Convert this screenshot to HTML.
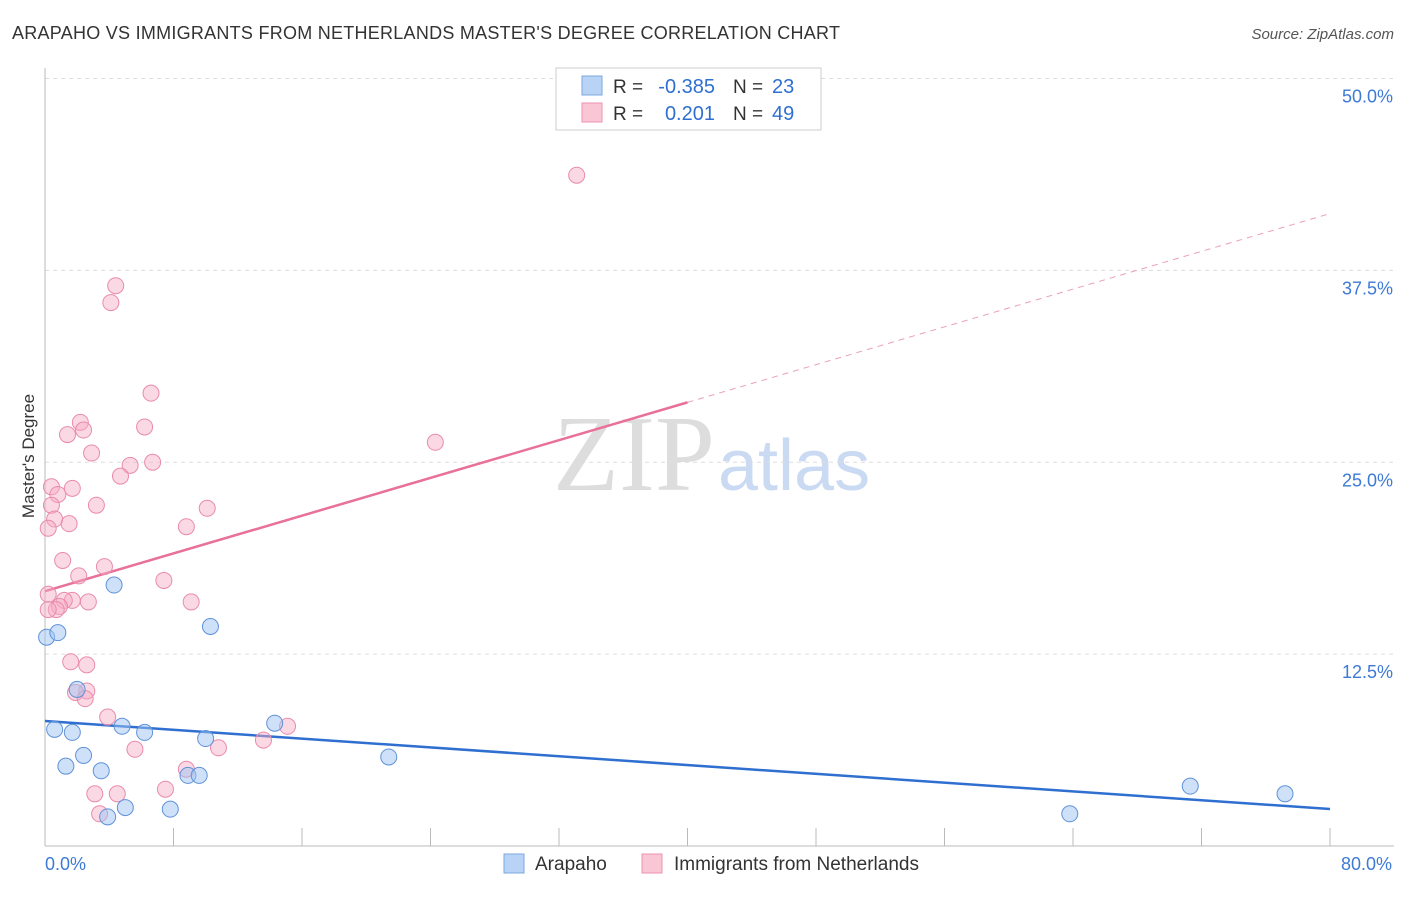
<!DOCTYPE html>
<html><head><meta charset="utf-8"><style>
body{margin:0;background:#fff;font-family:"Liberation Sans",sans-serif}
</style></head><body>
<svg id="c" width="1406" height="892" xmlns="http://www.w3.org/2000/svg">
<text x="12" y="39" font-size="18" fill="#333" textLength="828">ARAPAHO VS IMMIGRANTS FROM NETHERLANDS MASTER'S DEGREE CORRELATION CHART</text>
<text x="1394" y="39" font-size="15" fill="#555" font-style="italic" text-anchor="end">Source: ZipAtlas.com</text>
<text x="34" y="456" font-size="17" fill="#333" text-anchor="middle" transform="rotate(-90 34 456)">Master's Degree</text>
<text x="715" y="490" font-size="108" fill="#ddd" font-family="Liberation Serif" text-anchor="end">ZIP</text>
<text x="718" y="490" font-size="72" fill="#c9daf2">atlas</text>
<g id="grid"></g><g id="trend"></g><g id="pts"></g>
<g>
<rect x="556" y="68" width="265" height="62" fill="#fff" stroke="#ccc"/>
<rect x="582" y="76" width="20" height="19" fill="#b8d3f5" stroke="#7da7e0"/>
<text x="613" y="93" font-size="19" fill="#333">R =</text>
<text x="715" y="93" font-size="20" fill="#2f6fd0" text-anchor="end">-0.385</text>
<text x="733" y="93" font-size="19" fill="#333">N =</text>
<text x="772" y="93" font-size="20" fill="#2f6fd0">23</text>
<rect x="582" y="103" width="20" height="19" fill="#f9c6d5" stroke="#ee93ae"/>
<text x="613" y="120" font-size="19" fill="#333">R =</text>
<text x="715" y="120" font-size="20" fill="#2f6fd0" text-anchor="end">0.201</text>
<text x="733" y="120" font-size="19" fill="#333">N =</text>
<text x="772" y="120" font-size="20" fill="#2f6fd0">49</text>
</g>
<g>
<rect x="504" y="854" width="20" height="19" fill="#b8d3f5" stroke="#7da7e0"/>
<text x="535" y="870" font-size="19" fill="#333">Arapaho</text>
<rect x="642" y="854" width="20" height="19" fill="#f9c6d5" stroke="#ee93ae"/>
<text x="674" y="870" font-size="19" fill="#333">Immigrants from Netherlands</text>
</g>
</svg>
<script>
const yTicks=[12.5,25,37.5,50];
const yTickLabels=["12.5%","25.0%","37.5%","50.0%"];
const xTickLabels=["0.0%","80.0%"];
const blueX=[0.1,0.8,0.6,1.7,2.0,2.4,1.3,3.5,4.3,4.8,6.2,5.0,3.9,7.8,10.3,10.0,8.9,9.6,14.3,21.4,63.8,71.3,77.2];
const blueY=[13.6,13.9,7.6,7.4,10.2,5.9,5.2,4.9,17.0,7.8,7.4,2.5,1.9,2.4,14.3,7.0,4.6,4.6,8.0,5.8,2.1,3.9,3.4];
const pinkX=[33.1,4.4,4.1,6.6,24.3,2.2,2.4,1.4,6.2,2.9,5.3,6.7,4.7,0.4,0.8,1.7,3.2,10.1,0.4,1.5,0.6,8.8,0.2,1.1,3.7,2.1,7.4,0.2,1.7,2.7,1.2,0.9,0.7,9.1,1.6,2.6,2.6,1.9,2.5,3.9,5.6,10.8,13.6,15.1,8.8,7.5,3.1,4.5,3.4,0.2];
const pinkY=[43.7,36.5,35.4,29.5,26.3,27.6,27.1,26.8,27.3,25.6,24.8,25.0,24.1,23.4,22.9,23.3,22.2,22.0,22.2,21.0,21.3,20.8,20.7,18.6,18.2,17.6,17.3,16.4,16.0,15.9,16.0,15.6,15.4,15.9,12.0,11.8,10.1,10.0,9.6,8.4,6.3,6.4,6.9,7.8,5.0,3.7,3.4,3.4,2.1,15.4];
const blueTrend=[8.14,2.41];
const pinkTrend=[16.6,41.2];
const pinkSolidEnd=40;
const X=v=>45+v*16.0625, Y=v=>846-v*15.35;
const NS="http://www.w3.org/2000/svg";
function mk(t,a,p){const e=document.createElementNS(NS,t);for(const k in a)e.setAttribute(k,a[k]);p.appendChild(e);return e;}
const grid=document.getElementById('grid'),trend=document.getElementById('trend'),pts=document.getElementById('pts');
yTicks.forEach((t,i)=>{
 const l=mk('line',{x1:45,x2:1394,y1:Y(t),y2:Y(t),stroke:'#ddd','stroke-dasharray':'4,4'},grid);
 
 
 const tx=mk('text',{x:1393,y:Y(t)+24,'font-size':18,fill:'#3d7ad6','text-anchor':'end'},grid);tx.textContent=yTickLabels[i];
 
 
});
const ax=mk('line',{x1:45,x2:45,y1:68,y2:846,stroke:'#bbb'},grid);


const bx=mk('line',{x1:45,x2:1394,y1:846,y2:846,stroke:'#bbb'},grid);


for(let v=0;v<=80;v+=8){const t=mk('line',{x1:X(v),x2:X(v),y1:828,y2:846,stroke:'#bbb'},grid);
 
 }
[[0,'start'],[80,'end']].forEach((a,i)=>{const t=mk('text',{x:X(a[0])+(i?62:0),y:870,'font-size':18,fill:'#3d7ad6','text-anchor':a[1]},grid);t.textContent=xTickLabels[i];
 
 });
const py=v=>pinkTrend[0]+(pinkTrend[1]-pinkTrend[0])*v/80;
let l1=mk('line',{x1:X(0),y1:Y(blueTrend[0]),x2:X(80),y2:Y(blueTrend[1]),stroke:'#2f6fd0','stroke-width':2.5},trend);


let l2=mk('line',{x1:X(0),y1:Y(py(0)),x2:X(pinkSolidEnd),y2:Y(py(pinkSolidEnd)),stroke:'#e8709a','stroke-width':2.5},trend);


let l3=mk('line',{x1:X(pinkSolidEnd),y1:Y(py(pinkSolidEnd)),x2:X(80),y2:Y(py(80)),stroke:'#eba0b8','stroke-width':1,'stroke-dasharray':'6,5'},trend);


pinkX.forEach((x,i)=>{const c=mk('circle',{cx:X(x),cy:Y(pinkY[i]),r:8,fill:'rgba(246,170,195,0.45)',stroke:'#e98bab','stroke-width':1},pts);
 
 });
blueX.forEach((x,i)=>{const c=mk('circle',{cx:X(x),cy:Y(blueY[i]),r:8,fill:'rgba(160,196,242,0.5)',stroke:'#5f92da','stroke-width':1},pts);
 
 });
</script>
</body></html>
